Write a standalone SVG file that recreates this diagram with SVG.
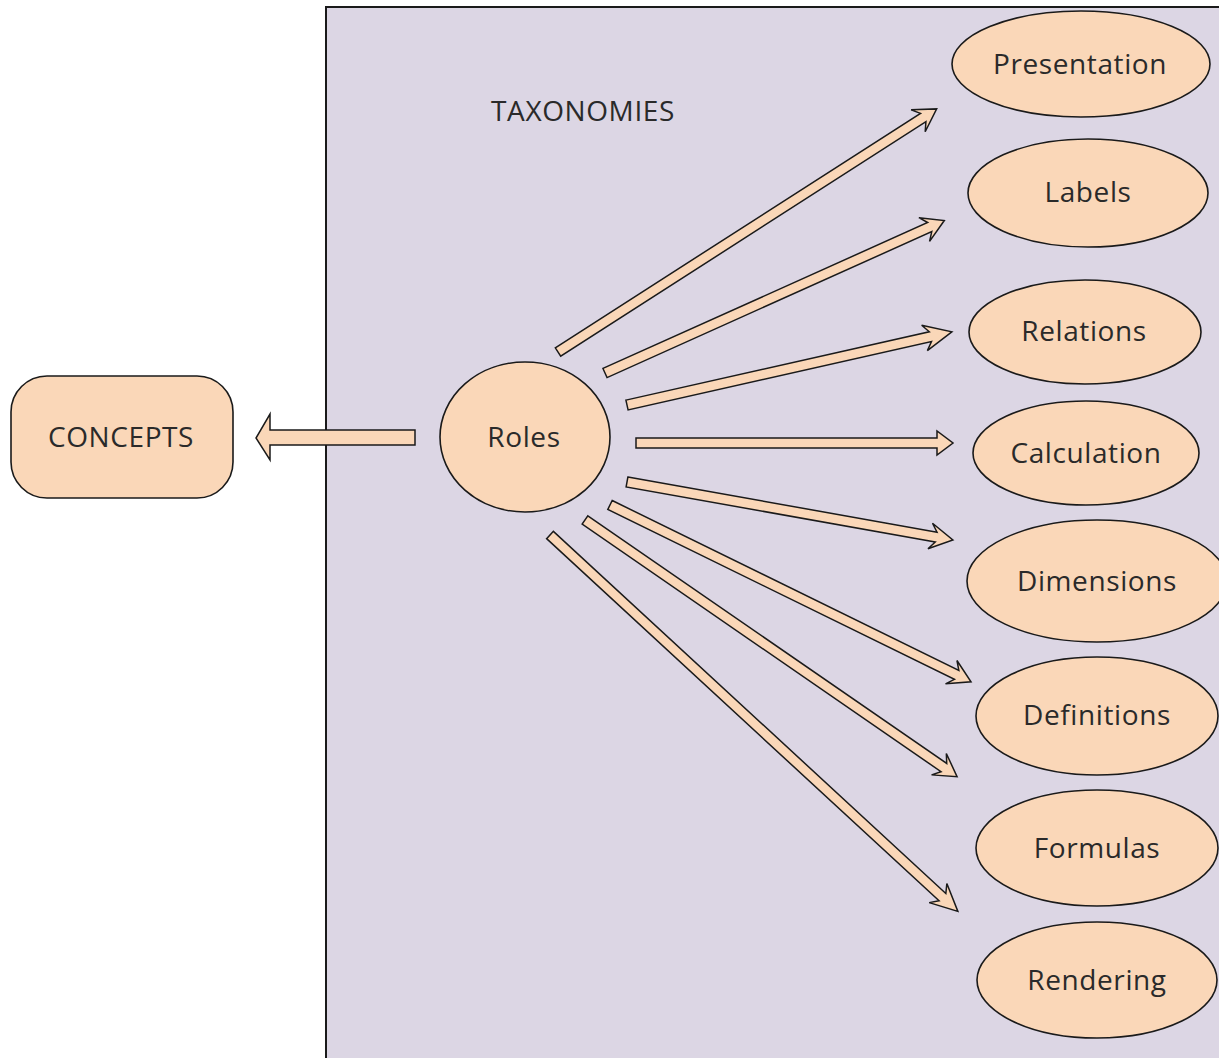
<svg xmlns="http://www.w3.org/2000/svg" width="1219" height="1058" viewBox="0 0 1219 1058">
<style>
.node{fill:#fad7b8;stroke:#1a1a1a;stroke-width:1.6}
.arrow{fill:#fad7b8;stroke:#1a1a1a;stroke-width:1.5;stroke-linejoin:miter}
.lbl{font-family:"Open Sans","Noto Sans",sans-serif;font-size:28px;letter-spacing:0.6px;fill:#2a2a2a;text-anchor:middle;dominant-baseline:central}
</style>
<rect width="1219" height="1058" fill="#ffffff"/>
<g id="taxonomies">
<rect x="326" y="7" width="910" height="1070" fill="#dcd6e4" stroke="#1a1a1a" stroke-width="2"/>
<text class="lbl" x="583" y="110">TAXONOMIES</text>
</g>
<g id="concepts">
<rect class="node" x="11" y="376" width="222" height="122" rx="36" ry="36"/>
<text class="lbl" x="121" y="436">CONCEPTS</text>
</g>
<g id="roles">
<ellipse class="node" cx="525" cy="437" rx="85" ry="75"/>
<text class="lbl" x="524" y="436">Roles</text>
</g>
<g id="presentation">
<ellipse class="node" cx="1081" cy="64" rx="129" ry="53"/>
<text class="lbl" x="1080" y="63">Presentation</text>
</g>
<g id="labels">
<ellipse class="node" cx="1088" cy="193" rx="120" ry="54"/>
<text class="lbl" x="1088" y="191">Labels</text>
</g>
<g id="relations">
<ellipse class="node" cx="1085" cy="332" rx="116" ry="52"/>
<text class="lbl" x="1084" y="330">Relations</text>
</g>
<g id="calculation">
<ellipse class="node" cx="1086" cy="453" rx="113" ry="52"/>
<text class="lbl" x="1086" y="452">Calculation</text>
</g>
<g id="dimensions">
<ellipse class="node" cx="1097" cy="581" rx="130" ry="61"/>
<text class="lbl" x="1097" y="580">Dimensions</text>
</g>
<g id="definitions">
<ellipse class="node" cx="1097" cy="716" rx="121" ry="59"/>
<text class="lbl" x="1097" y="714">Definitions</text>
</g>
<g id="formulas">
<ellipse class="node" cx="1097" cy="848" rx="121" ry="58"/>
<text class="lbl" x="1097" y="847">Formulas</text>
</g>
<g id="rendering">
<ellipse class="node" cx="1097" cy="980" rx="120" ry="58"/>
<text class="lbl" x="1097" y="979">Rendering</text>
</g>
<g id="connectors">
<polygon class="arrow" points="415,430 270,430 270,414 256,438 270,460 270,445 415,445"/>
<path class="arrow" transform="translate(558,352) rotate(-32.7)" d="M0,-5 L434,-5 L428,-13 L450,0 L428,13 L434,5 L0,5 Z"/>
<path class="arrow" transform="translate(605,373) rotate(-24.2)" d="M0,-5 L356,-5 L350,-13 L372,0 L350,13 L356,5 L0,5 Z"/>
<path class="arrow" transform="translate(627,405) rotate(-12.7)" d="M0,-5 L311,-5 L305,-13 L333,0 L305,13 L311,5 L0,5 Z"/>
<path class="arrow" transform="translate(636,443) rotate(0)" d="M0,-5 L301,-5 L301,-12 L317,0 L301,12 L301,5 L0,5 Z"/>
<path class="arrow" transform="translate(627,482) rotate(10.1)" d="M0,-5 L314,-5 L308,-13 L331,0 L308,13 L314,5 L0,5 Z"/>
<path class="arrow" transform="translate(610,505) rotate(26.1)" d="M0,-5 L386,-5 L380,-13 L402,0 L380,13 L386,5 L0,5 Z"/>
<path class="arrow" transform="translate(585,520) rotate(34.6)" d="M0,-5 L436,-5 L430,-13 L452,0 L430,13 L436,5 L0,5 Z"/>
<path class="arrow" transform="translate(550,535) rotate(42.7)" d="M0,-5 L534,-5 L528,-13 L555,0 L528,13 L534,5 L0,5 Z"/>
</g>
</svg>
